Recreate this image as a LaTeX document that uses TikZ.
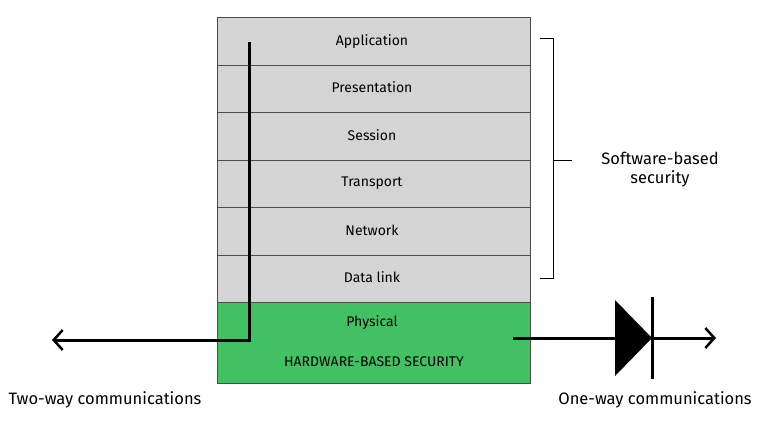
\documentclass[tikz,border=0pt]{standalone}
\usepackage{fontspec}
\setmainfont{Fira Sans}
\usetikzlibrary{arrows.meta}
\begin{document}
\begin{tikzpicture}[x=1pt,y=-1pt,
  layer/.style={draw=black!70,fill=black!17,minimum width=313pt,minimum height=47.5pt,inner sep=0pt,anchor=north west,line width=0.8pt},
  lbl/.style={font=\fontsize{14}{16}\selectfont,text depth=0pt},
  big/.style={font=\fontsize{16.5}{19}\selectfont},
  wire/.style={line width=3pt},
  tip/.style={-{Straight Barb[length=9pt,width=20pt,line width=2.5pt]}}]
\useasboundingbox (0,0) rectangle (768,432);
\node[layer] (app) at (217,17) {};
\node[layer] (pre) at (217,64.5) {};
\node[layer] (ses) at (217,112) {};
\node[layer] (tra) at (217,159.5) {};
\node[layer] (net) at (217,207) {};
\node[layer] (dat) at (217,254.5) {};
\node[draw=black!70,fill={rgb,255:red,66;green,193;blue,98},minimum width=313pt,minimum height=81pt,inner sep=0pt,anchor=north west,line width=0.8pt] (phy) at (217,302) {};
\node[lbl] at (372,40) {Application};
\node[lbl] at (372,87) {Presentation};
\node[lbl] at (372,135) {Session};
\node[lbl] at (372,182) {Transport};
\node[lbl] at (372,230) {Network};
\node[lbl] at (372,277) {Data link};
\node[lbl] at (372,321) {Physical};
\node[lbl] at (374,362) {HARDWARE-BASED SECURITY};
% bracket
\coordinate (b1) at (540,38); \coordinate (b2) at (540,278);
\draw[line width=0.8pt] (b1) -- (553,38) -- (553,278) -- (b2);
\coordinate (bm) at (553,160);
\draw[line width=0.8pt] (bm) -- (572,160);
\node[big,align=center] (soft) at (660,170) {Software-based\\security};
% left wire
\coordinate (w1) at (249,42); \coordinate (w2) at (249,340); \coordinate (w3) at (52,340);
\draw[wire,tip] (w1) -- (w2) -- (w3);
% right
\coordinate (r1) at (513,338); \coordinate (r2) at (615,338);
\coordinate (r3) at (652,338); \coordinate (r4) at (716,338);
\draw[wire] (r1) -- (r2);
\fill (615,300) -- (652,338) -- (615,376) -- cycle;
\draw[line width=3pt] (652,297) -- (652,379);
\draw[wire,tip] (r3) -- (r4);
\node[big] (two) at (105,400) {Two-way communications};
\node[big] (one) at (655,400) {One-way communications};
\end{tikzpicture}
\end{document}
